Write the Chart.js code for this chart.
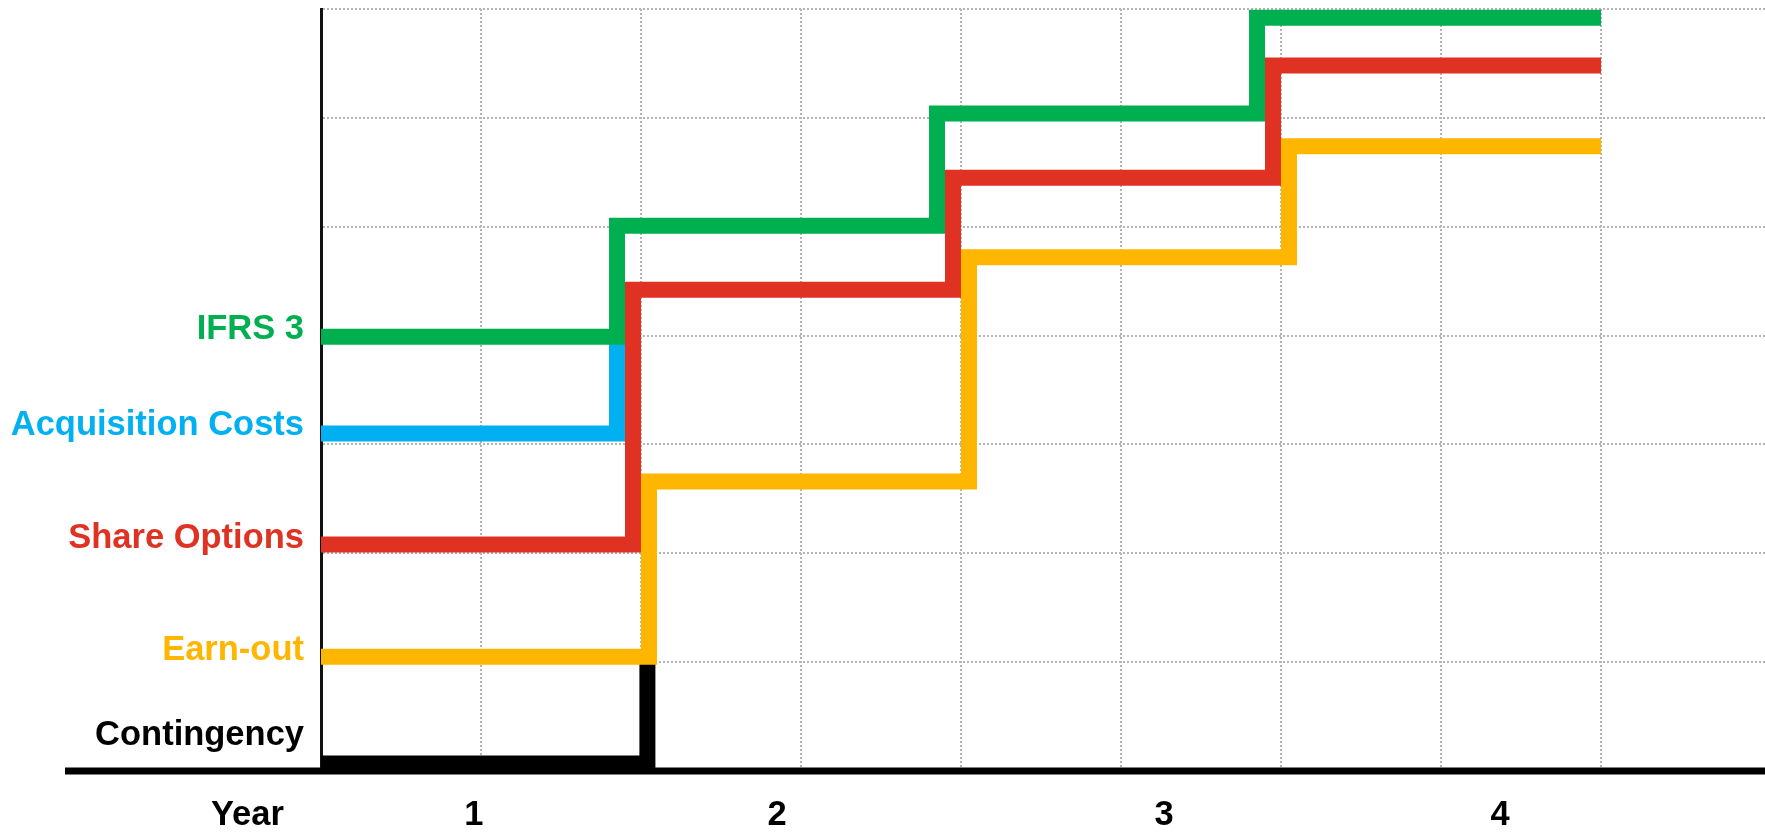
<!DOCTYPE html>
<html>
<head>
<meta charset="utf-8">
<title>IFRS 3 - Contingency</title>
<script src="https://cdn.jsdelivr.net/npm/chart.js@4"></script>
<style>
  html, body { margin: 0; padding: 0; background: #fff; }
  #wrap { width: 1765px; height: 835px; position: relative; }
</style>
</head>
<body>
<div id="wrap"><canvas id="myChart"></canvas></div>
<script>
// left labels, one per series
var seriesNames = ['IFRS 3', 'Acquisition Costs', 'Share Options', 'Earn-out', 'Contingency'];
var seriesColors = ['#00B050', '#00B0F0', '#E03222', '#FFB600', '#000000'];
var labelPos = [4.06, 3.17, 2.14, 1.11, 0.33];

// step corners (grid units)
var ifrsX = [0, 1.85, 3.85, 5.85, 8];
var ifrsY = [3.99, 5.01, 6.04, 6.92, 6.92];
var acqX = [0, 1.85];
var acqY = [3.10, 3.99];
var shareX = [0, 1.95, 3.95, 5.95, 8];
var shareY = [2.08, 4.42, 5.45, 6.48, 6.48];
var earnX = [0, 2.05, 4.05, 6.05, 8];
var earnY = [1.05, 2.66, 4.72, 5.74, 5.74];
var contX = [0, 2.04];
var contY = [0.07, 1.05];

// bottom labels
var yearLabels = ['1', '2', '3', '4'];
var yearPos = [0.955, 2.85, 5.27, 7.37];
var yearTitle = 'Year';
var yearTitlePos = -0.46;

var fontSize = 34.5;
var labelFont = { family: '"Liberation Sans", Arial, sans-serif', size: fontSize, weight: 'bold' };

function points(xs, ys) {
    var pts = [];
    for (var i = 0; i < xs.length; i++) {
        pts.push({ x: xs[i], y: ys[i] });
    }
    return pts;
}

function stepSet(name, xs, ys, color) {
    return {
        label: name,
        data: points(xs, ys),
        showLine: true,
        stepped: true,
        borderColor: color,
        backgroundColor: color,
        borderWidth: 16,
        borderJoinStyle: 'miter',
        borderCapStyle: 'butt',
        pointRadius: 0,
        fill: false,
        clip: false
    };
}

// thick base line that runs under the left labels too, plus the "Year" word
var extras = {
    id: 'extras',
    beforeDatasetsDraw: function (chart) {
        var ctx = chart.ctx;
        var y = chart.scales.y.getPixelForValue(0);
        ctx.save();
        ctx.strokeStyle = '#000';
        ctx.lineWidth = 7;
        ctx.beginPath();
        ctx.moveTo(65, y);
        ctx.lineTo(chart.width, y);
        ctx.stroke();
        ctx.restore();
    },
    afterDraw: function (chart) {
        var xl = chart.scales.xl;
        var ctx = chart.ctx;
        ctx.save();
        ctx.font = 'bold ' + fontSize + 'px "Liberation Sans", Arial, sans-serif';
        ctx.fillStyle = '#000';
        ctx.textAlign = 'center';
        ctx.textBaseline = 'middle';
        ctx.fillText(yearTitle, xl.getPixelForValue(yearTitlePos), xl.top + xl.options.ticks.padding + fontSize * 1.2 / 2);
        ctx.restore();
    }
};

var ctx = document.getElementById('myChart').getContext('2d');
var myChart = new Chart(ctx, {
    type: 'scatter',
    data: {
        datasets: [
            stepSet(seriesNames[0], ifrsX, ifrsY, seriesColors[0]),
            stepSet(seriesNames[1], acqX, acqY, seriesColors[1]),
            stepSet(seriesNames[2], shareX, shareY, seriesColors[2]),
            stepSet(seriesNames[3], earnX, earnY, seriesColors[3]),
            stepSet(seriesNames[4], contX, contY, seriesColors[4])
        ]
    },
    options: {
        responsive: true,
        maintainAspectRatio: false,
        animation: false,
        layout: { padding: { top: 9, right: 0, bottom: 0, left: 0 } },
        plugins: {
            legend: { display: false },
            tooltip: { enabled: false }
        },
        scales: {
            // dotted grid
            x: {
                type: 'linear',
                position: 'bottom',
                min: 0,
                max: 9.025,
                weight: 0,
                ticks: { stepSize: 1, display: false, includeBounds: false },
                afterBuildTicks: function (axis) {
                    axis.ticks = axis.ticks.filter(function (t) { return t.value <= 8; });
                },
                grid: { color: '#B4B4B4', lineWidth: 2, drawTicks: false },
                border: { display: false, dash: [2, 2] },
                afterFit: function (s) { s.height = 0; s.paddingLeft = 0; s.paddingRight = 0; }
            },
            y: {
                type: 'linear',
                position: 'left',
                min: 0,
                max: 7,
                weight: 0,
                ticks: { stepSize: 1, display: false },
                grid: { color: '#B4B4B4', lineWidth: 2, drawTicks: false },
                border: { display: true, color: '#111', width: 3, dash: [2, 2] },
                afterFit: function (s) { s.width = 0; s.paddingTop = 0; s.paddingBottom = 0; }
            },
            // year numbers
            xl: {
                type: 'linear',
                position: 'bottom',
                min: 0,
                max: 9.025,
                weight: 1,
                afterBuildTicks: function (axis) {
                    axis.ticks = yearPos.map(function (v) { return { value: v }; });
                },
                ticks: {
                    autoSkip: false,
                    maxRotation: 0,
                    padding: 24,
                    color: '#000',
                    font: labelFont,
                    callback: function (value, index) { return yearLabels[index]; }
                },
                grid: { display: false, drawTicks: false },
                border: { display: false },
                afterFit: function (s) { s.height = 64; s.paddingLeft = 0; s.paddingRight = 0; }
            },
            // series names on the left
            yl: {
                type: 'linear',
                position: 'left',
                min: 0,
                max: 7,
                weight: 1,
                afterBuildTicks: function (axis) {
                    axis.ticks = labelPos.map(function (v) { return { value: v }; });
                },
                ticks: {
                    autoSkip: false,
                    padding: 17,
                    font: labelFont,
                    color: function (c) { return seriesColors[c.index]; },
                    callback: function (value, index) { return seriesNames[index]; }
                },
                grid: { display: false, drawTicks: false },
                border: { display: false },
                afterFit: function (s) { s.width = 321; s.paddingTop = 0; s.paddingBottom = 0; }
            }
        }
    },
    plugins: [extras]
});
</script>
</body>
</html>
